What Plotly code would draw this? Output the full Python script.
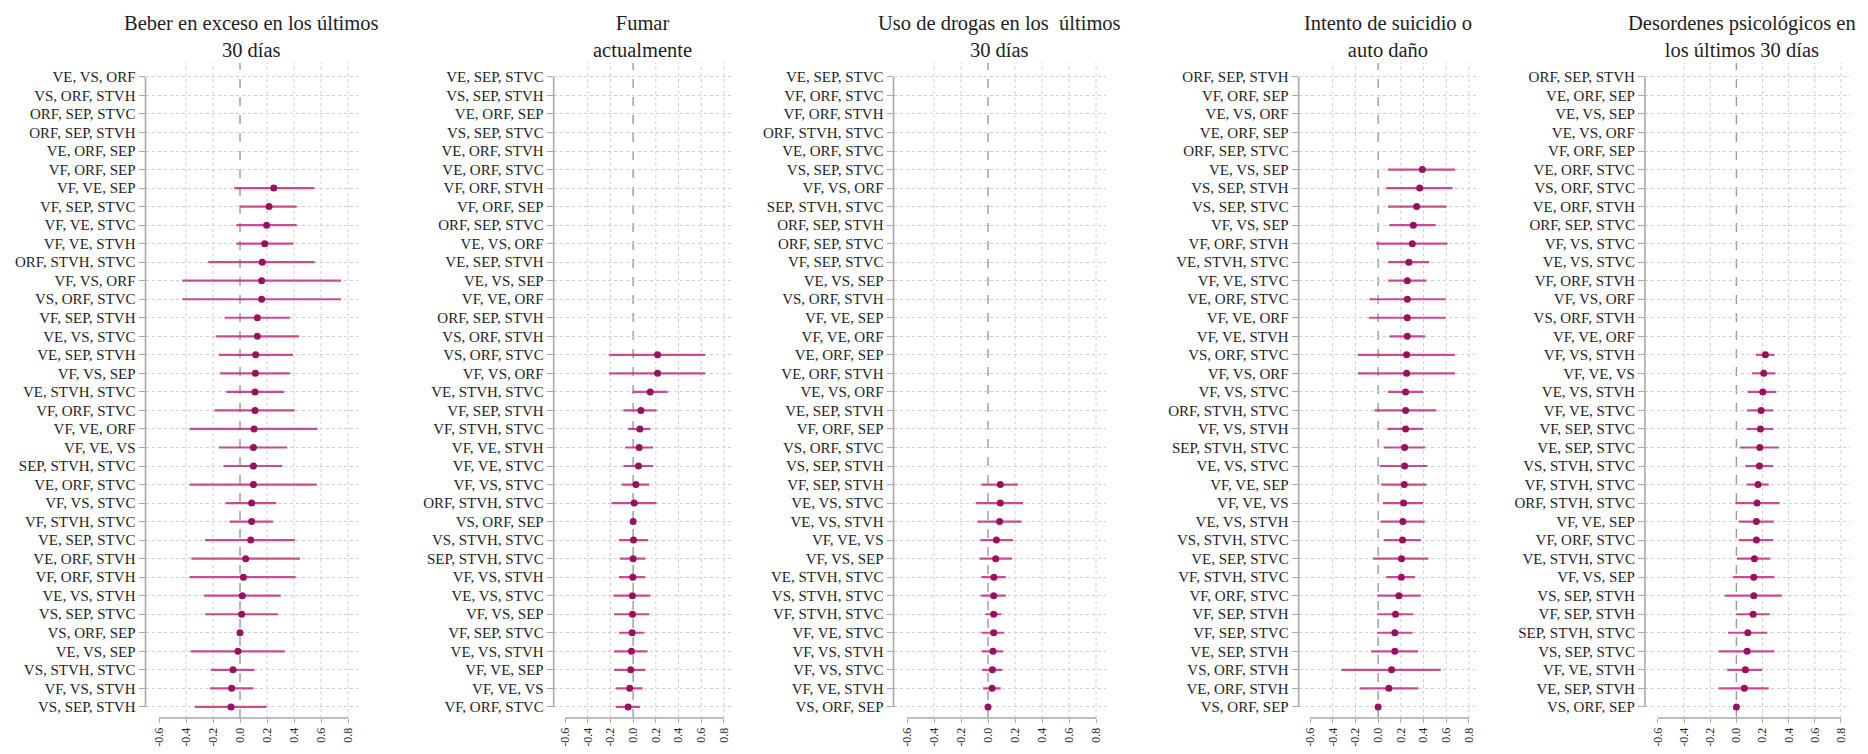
import plotly.graph_objects as go

# ---------------- data ----------------
titles = [
    "Beber en exceso en los últimos<br>30 días",
    "Fumar<br>actualmente",
    "Uso de drogas en los\u00a0 últimos<br>30 días",
    "Intento de suicidio o<br>auto daño",
    "Desordenes psicológicos en<br>los últimos 30 días",
]

labels1 = ["VE, VS, ORF", "VS, ORF, STVH", "ORF, SEP, STVC", "ORF, SEP, STVH", "VE, ORF, SEP",
           "VF, ORF, SEP", "VF, VE, SEP", "VF, SEP, STVC", "VF, VE, STVC", "VF, VE, STVH",
           "ORF, STVH, STVC", "VF, VS, ORF", "VS, ORF, STVC", "VF, SEP, STVH", "VE, VS, STVC",
           "VE, SEP, STVH", "VF, VS, SEP", "VE, STVH, STVC", "VF, ORF, STVC", "VF, VE, ORF",
           "VF, VE, VS", "SEP, STVH, STVC", "VE, ORF, STVC", "VF, VS, STVC", "VF, STVH, STVC",
           "VE, SEP, STVC", "VE, ORF, STVH", "VF, ORF, STVH", "VE, VS, STVH", "VS, SEP, STVC",
           "VS, ORF, SEP", "VE, VS, SEP", "VS, STVH, STVC", "VF, VS, STVH", "VS, SEP, STVH"]
est1 = [None, None, None, None, None, None,
        0.25, 0.215, 0.197, 0.183, 0.165, 0.16, 0.16, 0.128, 0.128, 0.116, 0.114, 0.111, 0.111,
        0.104, 0.099, 0.099, 0.099, 0.086, 0.086, 0.079, 0.042, 0.025, 0.017, 0.012, 0.0,
        -0.015, -0.052, -0.062, -0.067]
lo1 = [None, None, None, None, None, None,
       -0.044, 0.0, -0.027, -0.027, -0.235, -0.427, -0.427, -0.113, -0.18, -0.156, -0.148, -0.101,
       -0.188, -0.373, -0.156, -0.123, -0.373, -0.106, -0.077, -0.259, -0.36, -0.373, -0.267,
       -0.259, 0.0, -0.365, -0.217, -0.222, -0.333]
hi1 = [None, None, None, None, None, None,
       0.55, 0.42, 0.42, 0.395, 0.553, 0.748, 0.748, 0.37, 0.437, 0.393, 0.37, 0.326, 0.405,
       0.573, 0.35, 0.313, 0.568, 0.269, 0.244, 0.407, 0.444, 0.412, 0.301, 0.281, 0.0,
       0.331, 0.106, 0.099, 0.197]

labels2 = ["VE, SEP, STVC", "VS, SEP, STVH", "VE, ORF, SEP", "VS, SEP, STVC", "VE, ORF, STVH",
           "VE, ORF, STVC", "VF, ORF, STVH", "VF, ORF, SEP", "ORF, SEP, STVC", "VE, VS, ORF",
           "VE, SEP, STVH", "VE, VS, SEP", "VF, VE, ORF", "ORF, SEP, STVH", "VS, ORF, STVH",
           "VS, ORF, STVC", "VF, VS, ORF", "VE, STVH, STVC", "VF, SEP, STVH", "VF, STVH, STVC",
           "VF, VE, STVH", "VF, VE, STVC", "VF, VS, STVC", "ORF, STVH, STVC", "VS, ORF, SEP",
           "VS, STVH, STVC", "SEP, STVH, STVC", "VF, VS, STVH", "VE, VS, STVC", "VF, VS, SEP",
           "VF, SEP, STVC", "VE, VS, STVH", "VF, VE, SEP", "VF, VE, VS", "VF, ORF, STVC"]
est2 = [None, None, None, None, None, None, None, None, None, None, None, None, None, None, None,
        0.215, 0.215, 0.15, 0.068, 0.059, 0.053, 0.047, 0.024, 0.009, 0.0, 0.003, 0.0, -0.003,
        -0.006, -0.006, -0.009, -0.015, -0.021, -0.03, -0.044]
lo2 = [None, None, None, None, None, None, None, None, None, None, None, None, None, None, None,
       -0.212, -0.212, -0.006, -0.086, -0.044, -0.071, -0.086, -0.1, -0.192, 0.0, -0.124, -0.118,
       -0.124, -0.174, -0.168, -0.124, -0.168, -0.168, -0.153, -0.153]
hi2 = [None, None, None, None, None, None, None, None, None, None, None, None, None, None, None,
       0.634, 0.634, 0.304, 0.206, 0.15, 0.177, 0.177, 0.142, 0.206, 0.0, 0.133, 0.106, 0.106,
       0.15, 0.142, 0.097, 0.127, 0.106, 0.083, 0.059]

labels3 = ["VE, SEP, STVC", "VF, ORF, STVC", "VF, ORF, STVH", "ORF, STVH, STVC", "VE, ORF, STVC",
           "VS, SEP, STVC", "VF, VS, ORF", "SEP, STVH, STVC", "ORF, SEP, STVH", "ORF, SEP, STVC",
           "VF, SEP, STVC", "VE, VS, SEP", "VS, ORF, STVH", "VF, VE, SEP", "VF, VE, ORF",
           "VE, ORF, SEP", "VE, ORF, STVH", "VE, VS, ORF", "VE, SEP, STVH", "VF, ORF, SEP",
           "VS, ORF, STVC", "VS, SEP, STVH", "VF, SEP, STVH", "VE, VS, STVC", "VE, VS, STVH",
           "VF, VE, VS", "VF, VS, SEP", "VE, STVH, STVC", "VS, STVH, STVC", "VF, STVH, STVC",
           "VF, VE, STVC", "VF, VS, STVH", "VF, VS, STVC", "VF, VE, STVH", "VS, ORF, SEP"]
est3 = [None, None, None, None, None, None, None, None, None, None, None, None, None, None, None,
        None, None, None, None, None, None, None,
        0.091, 0.091, 0.086, 0.062, 0.057, 0.044, 0.042, 0.042, 0.042, 0.037, 0.032, 0.03, 0.0]
lo3 = [None, None, None, None, None, None, None, None, None, None, None, None, None, None, None,
       None, None, None, None, None, None, None,
       -0.049, -0.091, -0.079, -0.057, -0.062, -0.049, -0.054, -0.017, -0.049, -0.047, -0.044,
       -0.037, 0.0]
hi3 = [None, None, None, None, None, None, None, None, None, None, None, None, None, None, None,
       None, None, None, None, None, None, None,
       0.222, 0.259, 0.247, 0.185, 0.178, 0.131, 0.131, 0.099, 0.119, 0.111, 0.104, 0.094, 0.0]

labels4 = ["ORF, SEP, STVH", "VF, ORF, SEP", "VE, VS, ORF", "VE, ORF, SEP", "ORF, SEP, STVC",
           "VE, VS, SEP", "VS, SEP, STVH", "VS, SEP, STVC", "VF, VS, SEP", "VF, ORF, STVH",
           "VE, STVH, STVC", "VF, VE, STVC", "VE, ORF, STVC", "VF, VE, ORF", "VF, VE, STVH",
           "VS, ORF, STVC", "VF, VS, ORF", "VF, VS, STVC", "ORF, STVH, STVC", "VF, VS, STVH",
           "SEP, STVH, STVC", "VE, VS, STVC", "VF, VE, SEP", "VF, VE, VS", "VE, VS, STVH",
           "VS, STVH, STVC", "VE, SEP, STVC", "VF, STVH, STVC", "VF, ORF, STVC", "VF, SEP, STVH",
           "VF, SEP, STVC", "VE, SEP, STVH", "VS, ORF, STVH", "VE, ORF, STVH", "VS, ORF, SEP"]
est4 = [None, None, None, None, None,
        0.389, 0.366, 0.339, 0.31, 0.301, 0.271, 0.257, 0.257, 0.257, 0.257, 0.251, 0.251, 0.242,
        0.242, 0.242, 0.233, 0.233, 0.23, 0.224, 0.218, 0.215, 0.206, 0.204, 0.183, 0.153, 0.147,
        0.147, 0.118, 0.094, 0.0]
lo4 = [None, None, None, None, None,
       0.086, 0.071, 0.086, 0.1, -0.018, 0.088, 0.088, -0.077, -0.083, 0.1, -0.18, -0.18, 0.086,
       -0.032, 0.08, 0.05, 0.015, 0.027, 0.041, 0.021, 0.05, -0.044, 0.071, -0.009, -0.009,
       -0.009, -0.062, -0.324, -0.162, 0.0]
hi4 = [None, None, None, None, None,
       0.678, 0.655, 0.602, 0.507, 0.611, 0.448, 0.425, 0.596, 0.596, 0.413, 0.676, 0.676, 0.398,
       0.513, 0.395, 0.413, 0.434, 0.425, 0.398, 0.41, 0.375, 0.442, 0.324, 0.375, 0.31, 0.304,
       0.351, 0.552, 0.354, 0.0]

labels5 = ["ORF, SEP, STVH", "VE, ORF, SEP", "VE, VS, SEP", "VE, VS, ORF", "VF, ORF, SEP",
           "VE, ORF, STVC", "VS, ORF, STVC", "VE, ORF, STVH", "ORF, SEP, STVC", "VF, VS, STVC",
           "VE, VS, STVC", "VF, ORF, STVH", "VF, VS, ORF", "VS, ORF, STVH", "VF, VE, ORF",
           "VF, VS, STVH", "VF, VE, VS", "VE, VS, STVH", "VF, VE, STVC", "VF, SEP, STVC",
           "VE, SEP, STVC", "VS, STVH, STVC", "VF, STVH, STVC", "ORF, STVH, STVC", "VF, VE, SEP",
           "VF, ORF, STVC", "VE, STVH, STVC", "VF, VS, SEP", "VS, SEP, STVH", "VF, SEP, STVH",
           "SEP, STVH, STVC", "VS, SEP, STVC", "VF, VE, STVH", "VE, SEP, STVH", "VS, ORF, SEP"]
est5 = [None, None, None, None, None, None, None, None, None, None, None, None, None, None, None,
        0.222, 0.209, 0.202, 0.189, 0.184, 0.179, 0.176, 0.166, 0.158, 0.153, 0.153, 0.138,
        0.133, 0.133, 0.128, 0.087, 0.082, 0.069, 0.061, 0.0]
lo5 = [None, None, None, None, None, None, None, None, None, None, None, None, None, None, None,
       0.15, 0.12, 0.087, 0.082, 0.077, 0.026, 0.069, 0.077, -0.008, 0.018, 0.018, 0.005,
       -0.028, -0.089, -0.003, -0.064, -0.135, -0.071, -0.135, 0.0]
hi5 = [None, None, None, None, None, None, None, None, None, None, None, None, None, None, None,
       0.291, 0.298, 0.306, 0.281, 0.281, 0.324, 0.281, 0.247, 0.329, 0.286, 0.281, 0.26,
       0.291, 0.349, 0.255, 0.235, 0.291, 0.196, 0.247, 0.0]

x_tickvals = [-0.6, -0.4, -0.2, 0.0, 0.2, 0.4, 0.6, 0.8]
x_ticktext = ["-0.6", "-0.4", "-0.2", "0.0", "0.2", "0.4", "0.6", "0.8"]
x_gridvals = [-0.4, -0.2, 0.2, 0.4, 0.6, 0.8]

# ---------------- style / layout ----------------
# page body has an 8px margin, so the figure is sized to fit the window inside it
OFF = 8
W, H = 1868 - 2 * OFF, 754 - 2 * OFF
MT = 63 - OFF            # top of plotting area (screen 63)
MB = H - (718 - OFF)     # x-axis line at screen 718
FONT = "Liberation Serif, Times New Roman, serif"
MARK = "#9A1060"
ERR = "rgba(190,40,120,0.82)"
AXC = "#a9a9a9"
GRID = "#cfcfcf"
TXT = "#1e1e1e"
XRANGE = [-0.7, 0.87]
panel_px = [(145.5, 357.5), (553.7, 731.9), (893.5, 1105.5), (1298.7, 1476.9), (1644.9, 1850.1)]
title_xshift = [0, 0, 0, 0, -6]

panels = [
    (labels1, est1, lo1, hi1),
    (labels2, est2, lo2, hi2),
    (labels3, est3, lo3, hi3),
    (labels4, est4, lo4, hi4),
    (labels5, est5, lo5, hi5),
]

fig = go.Figure()
shapes = []
annotations = []
layout = {}
plot_h = H - MT - MB

for i, (labels, est, lo, hi) in enumerate(panels):
    n = "" if i == 0 else str(i + 1)
    xa, ya = "x" + n, "y" + n
    plus = [None if e is None else h - e for e, h in zip(est, hi)]
    minus = [None if e is None else e - l for e, l in zip(est, lo)]
    fig.add_trace(go.Scatter(
        x=est, y=labels, mode="markers", xaxis=xa, yaxis=ya, showlegend=False,
        marker=dict(color=MARK, size=7, line=dict(width=0)),
        error_x=dict(type="data", symmetric=False, array=plus, arrayminus=minus,
                     color=ERR, thickness=2.2, width=0),
    ))
    d0, d1 = panel_px[i]
    nrows = len(labels)
    layout["xaxis" + n] = dict(
        domain=[(d0 - OFF) / W, (d1 - OFF) / W], range=XRANGE, anchor=ya,
        tickmode="array", tickvals=x_tickvals, ticktext=x_ticktext, tickangle=-90,
        ticks="outside", ticklen=4, tickcolor=AXC, tickwidth=1.2,
        showgrid=False, zeroline=False, showline=False, automargin=False,
        tickfont=dict(family=FONT, size=12, color=TXT),
    )
    layout["yaxis" + n] = dict(
        domain=[0, 1], anchor=xa, type="category", categoryorder="array",
        categoryarray=labels, range=[nrows - 1 + 0.6, -0.75],
        ticks="outside", ticklen=6, tickcolor=AXC, tickwidth=1.2,
        showgrid=True, gridcolor=GRID, griddash="dot", gridwidth=1,
        zeroline=False, showline=False, automargin=False,
        tickfont=dict(family=FONT, size=15, color=TXT),
    )
    for gv in x_gridvals:
        shapes.append(dict(type="line", xref=xa, yref=ya + " domain", x0=gv, x1=gv, y0=0, y1=1,
                           line=dict(color=GRID, width=1, dash="dot"), layer="below"))
    shapes.append(dict(type="line", xref=xa, yref=ya + " domain", x0=0, x1=0, y0=0, y1=1,
                       line=dict(color="#9a9a9a", width=1.4, dash="dash"), layer="below"))
    shapes.append(dict(type="line", xref=xa + " domain", yref=ya, x0=0, x1=0,
                       y0=0, y1=nrows - 1, line=dict(color=AXC, width=1.6)))
    shapes.append(dict(type="line", xref=xa, yref=ya + " domain", x0=x_tickvals[0],
                       x1=x_tickvals[-1], y0=0, y1=0, line=dict(color=AXC, width=1.6)))
    title_center = 37 - OFF   # vertical centre of the two-line title block (figure px)
    annotations.append(dict(text=titles[i], xref=xa + " domain", yref="paper",
                            x=0.5, y=(H - MB - title_center) / plot_h, xanchor="center",
                            yanchor="middle", showarrow=False, xshift=title_xshift[i],
                            font=dict(family=FONT, size=20.5, color=TXT)))

fig.update_layout(
    width=W, height=H, template="none",
    margin=dict(l=0, r=0, t=MT, b=MB, pad=0),
    paper_bgcolor="white", plot_bgcolor="white",
    font=dict(family=FONT, color=TXT),
    shapes=shapes, annotations=annotations, showlegend=False,
    **layout,
)

fig.write_html("out.html")
